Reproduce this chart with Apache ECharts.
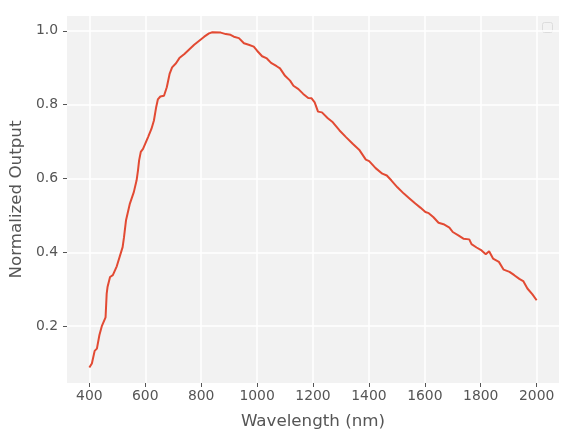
<!DOCTYPE html>
<html>
<head>
<meta charset="utf-8">
<script src="https://cdn.jsdelivr.net/npm/echarts@6/dist/echarts.min.js"></script>
<style>
  html, body { margin: 0; padding: 0; background: #fff; }
  #chart { width: 575px; height: 440px; }
</style>
</head>
<body>
<div id="chart"></div>
<script>
// spectrum
const wavelengths = [
  400, 409, 419, 427, 436, 445, 458, 462, 465, 474, 484, 498, 519, 524, 531, 545, 559, 569, 574, 578,
  584, 592, 610, 622, 631, 639, 645, 654, 667, 677, 687, 696, 710, 722, 740, 758, 775, 793, 811, 828,
  840, 870, 888, 905, 917, 935, 953, 970, 988, 1000, 1018, 1035, 1050, 1070, 1082, 1100, 1118, 1130, 1148, 1165,
  1183, 1195, 1206, 1218, 1232, 1253, 1271, 1295, 1318, 1342, 1365, 1389, 1401, 1424, 1448, 1464, 1480, 1502, 1525, 1542,
  1566, 1584, 1602, 1614, 1631, 1649, 1667, 1688, 1700, 1720, 1738, 1759, 1767, 1785, 1803, 1818, 1830, 1844, 1865, 1882,
  1903, 1920, 1938, 1952, 1967, 1985, 2000,
]
const output = [
  0.088, 0.099, 0.133, 0.139, 0.176, 0.201, 0.224, 0.288, 0.306, 0.333, 0.338, 0.362, 0.414, 0.441, 0.486, 0.532, 0.563, 0.595, 0.622, 0.649,
  0.672, 0.680, 0.712, 0.734, 0.757, 0.793, 0.814, 0.822, 0.824, 0.847, 0.883, 0.901, 0.912, 0.926, 0.937, 0.950, 0.962, 0.973, 0.984, 0.993,
  0.996, 0.995, 0.991, 0.989, 0.984, 0.980, 0.966, 0.962, 0.957, 0.946, 0.931, 0.925, 0.913, 0.904, 0.898, 0.878, 0.865, 0.851, 0.842, 0.829,
  0.818, 0.817, 0.806, 0.781, 0.779, 0.763, 0.752, 0.730, 0.712, 0.694, 0.678, 0.651, 0.647, 0.628, 0.613, 0.608, 0.595, 0.576, 0.559, 0.548,
  0.532, 0.521, 0.509, 0.506, 0.495, 0.480, 0.476, 0.467, 0.455, 0.446, 0.437, 0.435, 0.422, 0.413, 0.405, 0.395, 0.403, 0.383, 0.374, 0.353,
  0.347, 0.338, 0.328, 0.322, 0.302, 0.286, 0.270,
]
const xTicks = [400, 600, 800, 1000, 1200, 1400, 1600, 1800, 2000]
const yTicks = [0.2, 0.4, 0.6, 0.8, 1.0]

const textColor = '#555555'
const font = 'DejaVu Sans'

const chart = echarts.init(document.getElementById('chart'), null, { renderer: 'canvas' })

chart.setOption({
  animation: false,
  backgroundColor: '#ffffff',
  grid: {
    left: 64, right: 16, top: 16, bottom: 57,
    show: true,
    backgroundColor: '#f2f2f2',
    borderWidth: 0,
  },
  xAxis: {
    type: 'value',
    min: 320,
    max: 2080,
    name: 'Wavelength (nm)',
    nameLocation: 'middle',
    nameGap: 30,
    nameTextStyle: { color: textColor, fontSize: 16.7, fontFamily: font },
    axisLine: { show: false },
    axisTick: { show: true, length: 4, customValues: xTicks, lineStyle: { color: textColor, width: 1 } },
    axisLabel: {
      customValues: xTicks,
      color: textColor, fontSize: 13.9, fontFamily: font, margin: 6,
      formatter: (v) => String(v),
    },
    splitLine: { show: true, lineStyle: { color: '#ffffff', width: 1.5 } },
  },
  yAxis: {
    type: 'value',
    min: 0.046,
    max: 1.04,
    name: 'Normalized Output',
    nameLocation: 'middle',
    nameGap: 40,
    nameTextStyle: { color: textColor, fontSize: 16.7, fontFamily: font },
    axisLine: { show: false },
    axisTick: { show: true, length: 4, customValues: yTicks, lineStyle: { color: textColor, width: 1 } },
    axisLabel: {
      customValues: yTicks,
      color: textColor, fontSize: 13.9, fontFamily: font, margin: 9,
      formatter: (v) => v.toFixed(1),
    },
    splitLine: { show: true, lineStyle: { color: '#ffffff', width: 1.5 } },
  },
  graphic: [
    {
      // empty legend frame, top right
      type: 'rect',
      right: 22, top: 22,
      shape: { width: 10, height: 10, r: 2 },
      style: { fill: '#f2f2f2', stroke: '#dcdcdc', lineWidth: 1 },
    },
  ],
  series: [
    {
      type: 'line',
      data: wavelengths.map((w, i) => [w, output[i]]),
      showSymbol: false,
      symbol: 'none',
      lineStyle: { color: '#E24A33', width: 2 },
      z: 3,
    },
  ],
})
</script>
</body>
</html>
